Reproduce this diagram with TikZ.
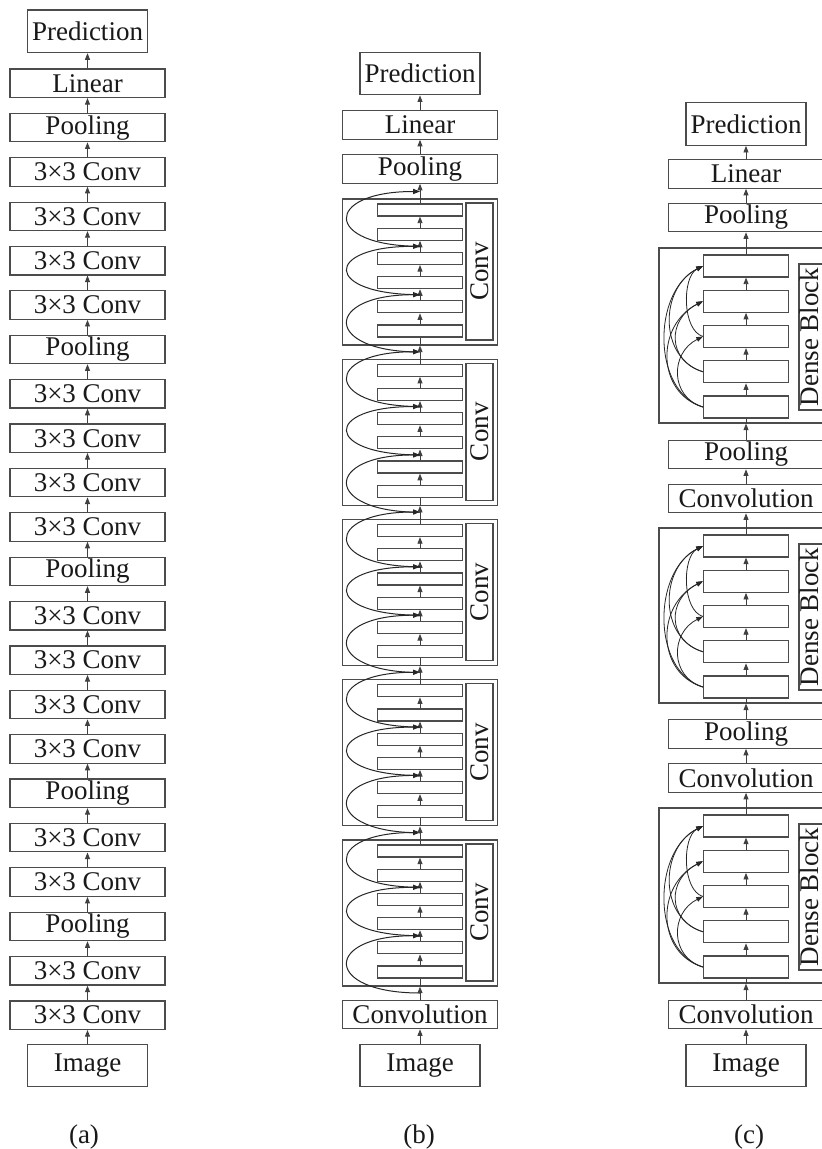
\documentclass[tikz,border=0pt]{standalone}
\usepackage{fontspec}
\setmainfont{Liberation Serif}
\usetikzlibrary{arrows.meta}
\newcommand\densecurve[3]{\draw[dc] (#1.west) .. controls +(-#3,{0.3*#3}) and +(-#3,{-0.5*#3}) .. (#2.west);}
\begin{document}
\begin{tikzpicture}[x=0.5pt,y=0.5pt,
 every node/.style={font=\fontsize{13.5pt}{16pt}\selectfont, text=black!90, inner sep=0pt},
 box/.style={draw=black!70, line width=0.6pt, minimum width=77.5pt, minimum height=14.2pt},
 bigbox/.style={draw=black!70, line width=0.6pt, minimum width=60pt, minimum height=21.3pt},
 blk/.style={draw=black!70, line width=0.6pt, minimum width=77.5pt, minimum height=73pt},
 inb/.style={draw=black!70, line width=0.6pt, minimum width=42.5pt, minimum height=6pt},
 lblb/.style={draw=black!70, line width=0.6pt, rotate=90, minimum width=68.5pt, minimum height=13.5pt},
 blkc/.style={draw=black!70, line width=0.6pt, minimum width=87pt, minimum height=87.5pt},
 inc/.style={draw=black!70, line width=0.6pt, minimum width=42.5pt, minimum height=11pt},
 lblc/.style={rotate=90},
 lboxc/.style={draw=black!70, line width=0.6pt},
 arr/.style={draw=black!75, line width=0.45pt, -{Triangle[length=3.3pt,width=2.5pt]}},
 ln/.style={draw=black!75, line width=0.45pt},
 rc/.style={draw=black!85, line width=0.5pt, -{Triangle[length=3.5pt,width=2.6pt]}},
 dc/.style={draw=black!85, line width=0.4pt, -{Triangle[length=3.3pt,width=2.4pt]}}
]
\useasboundingbox[fill=white] (0,0) rectangle (822,-1149);

% ---------------- column (a)
\node[bigbox] (aP) at (87.5,-31.3) {Prediction};
\foreach \i/\t in {0/Linear,1/Pooling,2/3×3 Conv,3/3×3 Conv,4/3×3 Conv,5/3×3 Conv,6/Pooling,7/3×3 Conv,8/3×3 Conv,9/3×3 Conv,10/3×3 Conv,11/Pooling,12/3×3 Conv,13/3×3 Conv,14/3×3 Conv,15/3×3 Conv,16/Pooling,17/3×3 Conv,18/3×3 Conv,19/Pooling,20/3×3 Conv,21/3×3 Conv}
  \node[box] (a\i) at (87.5,{-(83.2+44.38*\i)}) {\t};
\node[bigbox] (aI) at (87.5,-1065.5) {Image};
\draw[arr] (aI.north) -- (a21.south);
\foreach \i [count=\j from 1] in {0,...,20} \draw[arr] (a\j.north) -- (a\i.south);
\draw[arr] (a0.north) -- (aP.south);

% ---------------- column (b)
\node[bigbox] (bP) at (420,-73.5) {Prediction};
\node[box] (bL) at (420,-125) {Linear};
\node[box] (bPo) at (420,-169) {Pooling};
\node[box] (bC) at (420,-1014.5) {Convolution};
\node[bigbox] (bI) at (420,-1065.5) {Image};
\foreach \j in {0,...,4}{
  \pgfmathsetmacro\T{199+160.25*\j}
  \node[blk] (b\j) at (420,{-(\T+73)}) {};
  \foreach \i in {0,...,5} \node[inb] (b\j-\i) at (420,{-(\T+11+24.2*\i)}) {};
  \node[lblb] (bl\j) at (479.5,{-(\T+72.5)}) {Conv};
  \coordinate (bx\j) at (420,{-(\T-7.5)});
  \coordinate (bm\j) at (420,{-(\T+47.3)});
  \coordinate (bn\j) at (420,{-(\T+95.7)});
  \coordinate (be\j) at (420,{-(\T+153)});
  \draw[ln] (b\j.south) -- (b\j-5.south);
  \foreach \i [count=\k from 1] in {0,...,4} \draw[arr] (b\j-\k.north) -- (b\j-\i.south);
  \draw[ln] (b\j-0.north) -- (b\j.north);
  \draw[rc] (be\j) .. controls +(-97,0) and +(-97,0) .. (bn\j);
  \draw[rc] (bn\j) .. controls +(-97,0) and +(-97,0) .. (bm\j);
  \draw[rc] (bm\j) .. controls +(-97,0) and +(-97,0) .. (bx\j);
}
\draw[arr] (bI.north) -- (bC.south);
\draw[arr] (bC.north) -- (b4.south);
\foreach \j [count=\k from 1] in {0,...,3} \draw[arr] (b\k.north) -- (b\j.south);
\draw[arr] (b0.north) -- (bPo.south);
\draw[arr] (bPo.north) -- (bL.south);
\draw[arr] (bL.north) -- (bP.south);

% ---------------- column (c)
\node[bigbox] (cP) at (746,-124) {Prediction};
\node[box] (cL) at (746,-174) {Linear};
\node[box] (cPo) at (746,-217.5) {Pooling};
\node[box] (cPl0) at (746,-454.5) {Pooling};
\node[box] (cCv0) at (746,-498.5) {Convolution};
\node[box] (cPl1) at (746,-734) {Pooling};
\node[box] (cCv1) at (746,-778) {Convolution};
\node[box] (cC) at (746,-1014.5) {Convolution};
\node[bigbox] (cI) at (746,-1065.5) {Image};
\foreach \k in {0,1,2}{
  \pgfmathsetmacro\T{248+280*\k}
  \node[blkc] (c\k) at (746,{-(\T+87.5)}) {};
  \foreach \i in {0,...,4} \node[inc] (c\k-\i) at (746,{-(\T+18+35.25*\i)}) {};
  \draw[lboxc] (832,{-(\T+16)}) -- (799,{-(\T+16)}) -- (799,{-(\T+162)}) -- (832,{-(\T+162)});
  \node[lblc] (cl\k) at (809.5,{-(\T+89)}) {Dense Block};
  \draw[ln] (c\k.south) -- (c\k-4.south);
  \foreach \i [count=\m from 1] in {0,...,3} \draw[arr] (c\k-\m.north) -- (c\k-\i.south);
  \draw[ln] (c\k-0.north) -- (c\k.north);
  \densecurve{c\k-4}{c\k-0}{51}
  \densecurve{c\k-3}{c\k-0}{44}
  \densecurve{c\k-2}{c\k-0}{21}
  \densecurve{c\k-4}{c\k-1}{47}
  \densecurve{c\k-3}{c\k-1}{36}
  \densecurve{c\k-4}{c\k-2}{33}
}
\draw[arr] (cI.north) -- (cC.south);
\draw[arr] (cC.north) -- (c2.south);
\draw[arr] (c2.north) -- (cCv1.south);
\draw[arr] (cCv1.north) -- (cPl1.south);
\draw[arr] (cPl1.north) -- (c1.south);
\draw[arr] (c1.north) -- (cCv0.south);
\draw[arr] (cCv0.north) -- (cPl0.south);
\draw[arr] (cPl0.north) -- (c0.south);
\draw[arr] (c0.north) -- (cPo.south);
\draw[arr] (cPo.north) -- (cL.south);
\draw[arr] (cL.north) -- (cP.south);

% ---------------- captions
\node (la) at (84,-1137) {(a)};
\node (lb) at (419,-1137) {(b)};
\node (lc) at (749,-1137) {(c)};
\end{tikzpicture}
\end{document}
